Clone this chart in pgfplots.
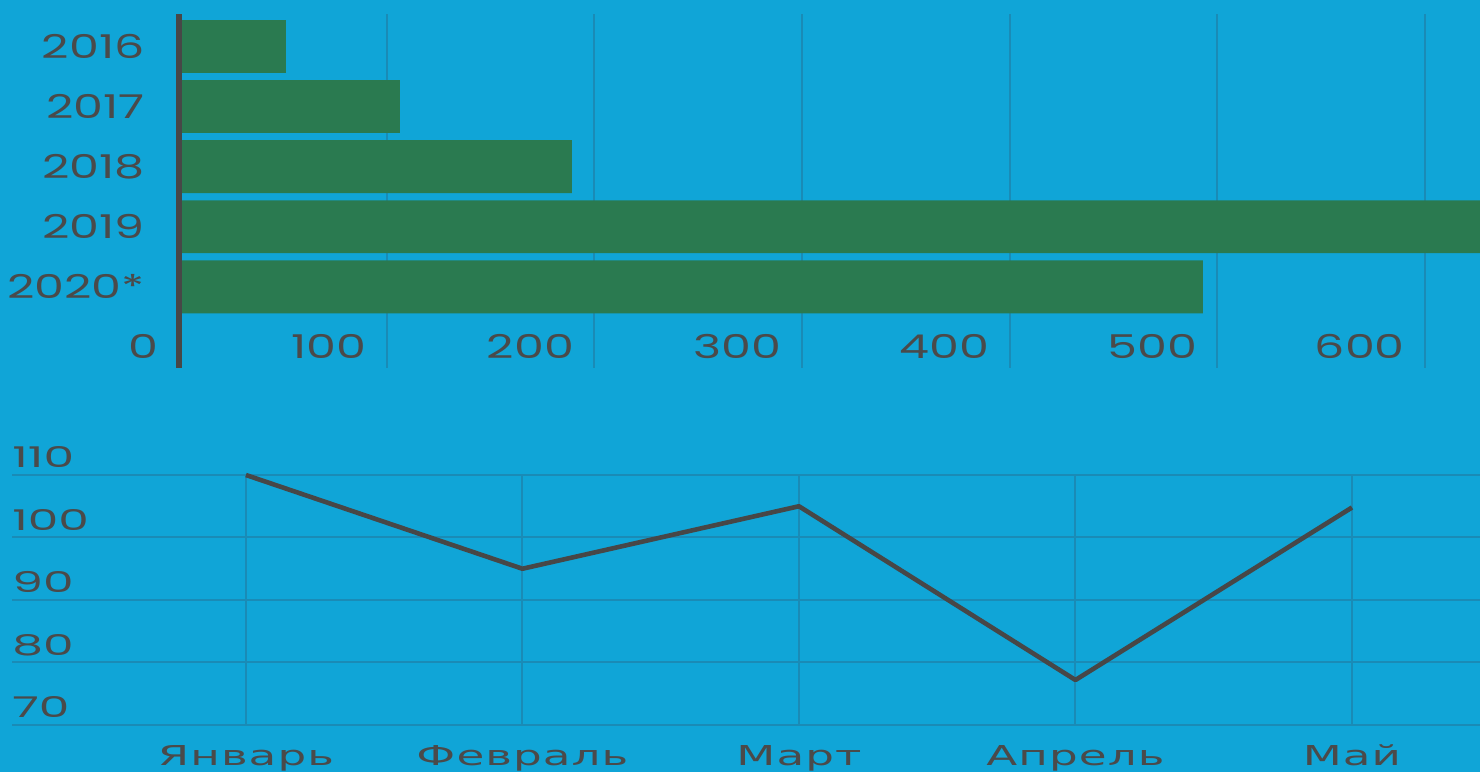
\documentclass[border=0pt]{standalone}
\usepackage{pgfplots}
\pgfplotsset{compat=1.18}
\usepackage{fontspec}
\setmainfont{Poppins}[FakeStretch=1.2]
\newfontfamily\numA{Poppins}[FakeStretch=1.45]
\newfontfamily\numB{Poppins}[FakeStretch=1.7]
\newfontfamily\cyr{DejaVu Sans}[FakeStretch=1.65, LetterSpace=4]
\definecolor{bg}{HTML}{10A5D7}
\definecolor{gridc}{HTML}{1A8BB6}
\definecolor{barg}{HTML}{2A7A50}
\definecolor{txt}{HTML}{4A4A4A}
\definecolor{axl}{HTML}{474747}
\begin{document}
\begin{tikzpicture}[x=1pt,y=1pt]
\path[use as bounding box, fill=bg] (0,0) rectangle (740,386);
\begin{axis}[
  at={(89.5pt,202pt)}, anchor=south west, scale only axis,
  width=650.5pt, height=177pt,
  xbar, bar width=0.88,
  xmin=0, xmax=626.4, ymin=-1.35, ymax=4.54,
  xtick={0,100,...,600}, ytick={0,...,4},
  yticklabels={2020*,2019,2018,2017,2016},
  xmajorgrids, grid style={gridc, line width=1pt},
  axis line style={draw=none}, major tick length=0pt,
  clip mode=individual,
  tick label style={font=\numA\fontsize{16.4}{16}\selectfont, text=txt, inner sep=0pt},
  xticklabel style={anchor=base east, xshift=-10pt, yshift=4.5pt},
  yticklabel style={anchor=east, xshift=-17pt},
  /pgf/number format/assume math mode=true,
]
\addplot[fill=barg, draw=none] coordinates {(51.5,4) (106.4,3) (189.2,2) (700,1) (493,0)};
\draw[axl, line width=3pt] (axis cs:0,-1.35) -- (axis cs:0,4.54);
\end{axis}
\begin{axis}[
  at={(6pt,23.5pt)}, anchor=south west, scale only axis,
  width=734pt, height=125pt,
  xmin=-0.846, xmax=4.463, ymin=70, ymax=110,
  xtick={0,...,4}, xticklabels={Январь,Февраль,Март,Апрель,Май},
  ytick={70,80,...,110},
  grid=major, grid style={gridc, line width=1pt},
  axis line style={draw=none}, major tick length=0pt,
  clip=false,
  tick label style={text=txt, inner sep=0pt},
  yticklabel style={anchor=base west, yshift=3.5pt, font=\numB\fontsize{14.3}{14}\selectfont},
  xticklabel style={anchor=base, yshift=-20pt, font=\cyr\fontsize{13.7}{14}\selectfont},
  /pgf/number format/assume math mode=true,
]
\addplot[axl, line width=2.3pt, line join=round, no marks] coordinates {(0,110) (1,95) (2,105) (3,77.2) (4,104.8)};
\end{axis}
\end{tikzpicture}
\end{document}
